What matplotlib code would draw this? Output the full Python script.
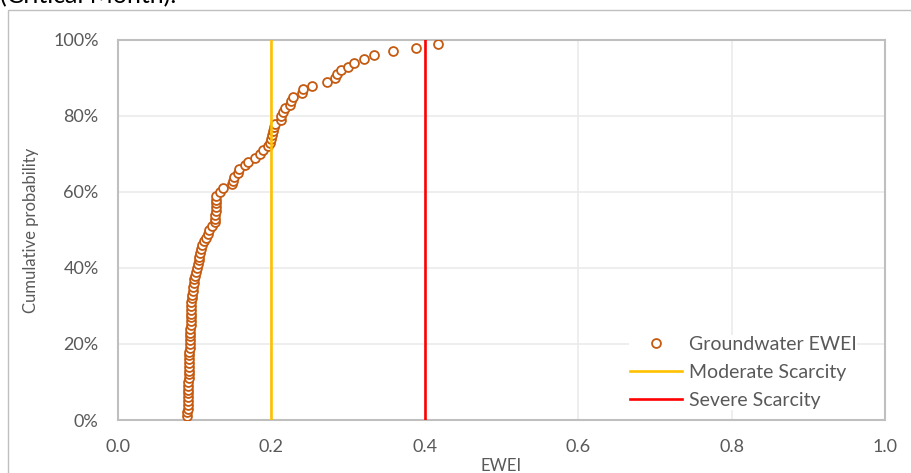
import matplotlib
matplotlib.use("Agg")
import matplotlib.pyplot as plt
import matplotlib.patches as mpatches
from matplotlib.ticker import PercentFormatter

plt.rcParams["font.family"] = ["Lato", "DejaVu Sans"]

# cumulative probability (1% .. 99%) and the sorted EWEI values
probability = [p / 100 for p in range(1, 100)]
ewei = [
    0.0904, 0.0906, 0.0908, 0.0910, 0.0912, 0.0913, 0.0915, 0.0916, 0.0918, 0.0919,
    0.0920, 0.0922, 0.0923, 0.0924, 0.0926, 0.0928, 0.0930, 0.0932, 0.0934, 0.0936,
    0.0938, 0.0940, 0.0942, 0.0944, 0.0946, 0.0948, 0.0950, 0.0952, 0.0954, 0.0956,
    0.0958, 0.0960, 0.0966, 0.0973, 0.0980, 0.0988, 0.0995, 0.1005, 0.1016, 0.1028,
    0.1040, 0.1050, 0.1060, 0.1070, 0.1080, 0.1090, 0.1120, 0.1150, 0.1170, 0.1190,
    0.1225, 0.1265, 0.1268, 0.1270, 0.1272, 0.1274, 0.1276, 0.1278, 0.1282, 0.1330,
    0.1370, 0.1490, 0.1500, 0.1510, 0.1560, 0.1580, 0.1660, 0.1690, 0.1786, 0.1850,
    0.1895, 0.1960, 0.1980, 0.1990, 0.2010, 0.2020, 0.2030, 0.2045, 0.2120, 0.2130,
    0.2150, 0.2177, 0.2240, 0.2260, 0.2286, 0.2395, 0.2408, 0.2525, 0.2720, 0.2830,
    0.2860, 0.2903, 0.3000, 0.3080, 0.3207, 0.3338, 0.3580, 0.3885, 0.4176,
]

moderate_x = [0.2, 0.2]
severe_x = [0.4, 0.4]
threshold_y = [0.0, 1.0]

x_ticks = [0.0, 0.2, 0.4, 0.6, 0.8, 1.0]
y_ticks = [0.0, 0.2, 0.4, 0.6, 0.8, 1.0]

text_grey = "#595959"

fig = plt.figure(figsize=(9.12, 4.73), dpi=100)
ax = fig.add_axes([118 / 912, 53 / 473, 767 / 912, 380 / 473])

# outer chart border (extends past the image edges)
fig.patches.append(mpatches.Rectangle(
    (8 / 912, -0.1), 1.2, 1 - 10 / 473 + 0.1,
    transform=fig.transFigure, fill=False, edgecolor="#BFBFBF", linewidth=1.0
))

fig.text(0.0, 1 - 3 / 473, "(Critical Month).", fontsize=18, color="black",
         ha="left", va="baseline")

ax.plot(ewei, probability, linestyle="none", marker="o", markersize=6.4,
        markerfacecolor="white", markeredgecolor="#C55A11",
        markeredgewidth=1.3, label="Groundwater EWEI", zorder=3)
ax.plot(moderate_x, threshold_y, color="#FFC000", linewidth=1.9,
        label="Moderate Scarcity", zorder=4)
ax.plot(severe_x, threshold_y, color="#FF0000", linewidth=1.9,
        label="Severe Scarcity", zorder=4)

ax.set_xlim(0, 1)
ax.set_ylim(0, 1)
ax.set_xticks(x_ticks)
ax.set_yticks(y_ticks)
ax.xaxis.set_major_formatter(lambda v, pos: f"{v:.1f}")
ax.yaxis.set_major_formatter(PercentFormatter(1.0, decimals=0))
ax.tick_params(length=0, labelsize=13, labelcolor=text_grey)
ax.tick_params(axis="x", pad=14)
ax.tick_params(axis="y", pad=14)
ax.grid(True, color="#EBEBEB", linewidth=1.2, zorder=0)
ax.set_axisbelow(True)

for spine in ax.spines.values():
    spine.set_color("#BFBFBF")
    spine.set_linewidth(1.5)

ax.set_xlabel("EWEI", fontsize=12, color=text_grey, labelpad=2)
ax.set_ylabel("Cumulative probability", fontsize=12, color=text_grey, labelpad=10)

leg = ax.legend(loc="lower right", bbox_to_anchor=(0.9765, 0.002), frameon=True,
                fontsize=14, handlelength=2.7, handletextpad=0.33,
                labelspacing=0.55, borderpad=0.05)
leg.get_frame().set_edgecolor("none")
leg.get_frame().set_facecolor("white")
leg.get_frame().set_alpha(1.0)
leg.get_frame().set_boxstyle("square", pad=0)
for t in leg.get_texts():
    t.set_color(text_grey)

fig.savefig("out.png", dpi=100)
